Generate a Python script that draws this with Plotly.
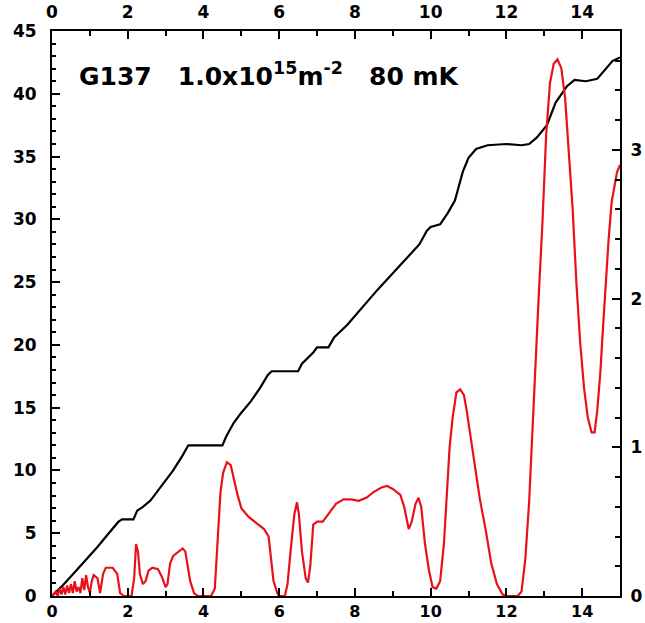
import plotly.graph_objects as go

# Hall resistance (left axis, black)
hall_x = [0, 0.3, 0.6, 0.9, 1.2, 1.5, 1.75, 1.85, 2.15, 2.25, 2.4, 2.6, 2.9, 3.2, 3.45, 3.6,
          4.5, 4.6, 4.8, 5.0, 5.25, 5.5, 5.7, 5.8, 6.5, 6.6, 6.9, 7.0, 7.3, 7.45, 7.8, 8.2,
          8.6, 9.0, 9.4, 9.7, 9.9, 10.0, 10.25, 10.45, 10.64, 10.85, 11.0, 11.2, 11.5, 12.0,
          12.4, 12.6, 12.8, 13.07, 13.3, 13.6, 13.8, 14.1, 14.4, 14.6, 14.8, 15.0]
hall_y = [0, 0.9, 1.9, 2.9, 3.9, 5.0, 5.9, 6.1, 6.1, 6.8, 7.1, 7.6, 8.8, 10.0, 11.2, 12.0,
          12.0, 12.7, 13.8, 14.6, 15.5, 16.6, 17.6, 17.9, 17.9, 18.5, 19.4, 19.8, 19.8, 20.6, 21.6, 23.0,
          24.4, 25.7, 27.0, 28.0, 29.1, 29.4, 29.6, 30.5, 31.5, 33.8, 34.9, 35.6, 35.9, 36.0,
          35.9, 36.0, 36.5, 37.5, 39.3, 40.6, 41.1, 41.0, 41.2, 41.9, 42.6, 42.9]

# Longitudinal resistance (right axis, red)
rxx_x = [0, 0.1, 0.15, 0.2, 0.25, 0.3, 0.35, 0.4, 0.45, 0.5, 0.55, 0.6, 0.65, 0.7, 0.75, 0.8,
         0.85, 0.9, 0.95, 1.0, 1.05, 1.1, 1.2, 1.27, 1.35, 1.42, 1.6, 1.72, 1.8, 1.9, 2.1, 2.17,
         2.22, 2.27, 2.32, 2.4, 2.47, 2.55, 2.65, 2.8, 2.9, 3.0, 3.05, 3.12, 3.2, 3.35, 3.45,
         3.52, 3.58, 3.65, 3.75, 3.85, 4.2, 4.3, 4.38, 4.45, 4.52, 4.62, 4.72, 4.8, 4.9, 5.0,
         5.2, 5.4, 5.6, 5.72, 5.78, 5.85, 5.95, 6.0, 6.15, 6.22, 6.3, 6.4, 6.47, 6.52, 6.6, 6.7,
         6.76, 6.82, 6.9, 7.0, 7.15, 7.3, 7.5, 7.7, 7.9, 8.1, 8.3, 8.5, 8.7, 8.85, 9.0, 9.2,
         9.3, 9.42, 9.5, 9.6, 9.68, 9.75, 9.85, 9.95, 10.05, 10.15, 10.25, 10.35, 10.42, 10.5,
         10.58, 10.68, 10.78, 10.88, 10.95, 11.05, 11.15, 11.3, 11.45, 11.6, 11.75, 11.9, 12.0,
         12.3, 12.4, 12.5, 12.6, 12.7, 12.78, 12.85, 12.95, 13.05, 13.15, 13.25, 13.35, 13.45,
         13.55, 13.65, 13.75, 13.85, 13.95, 14.05, 14.15, 14.25, 14.33, 14.4, 14.48, 14.55,
         14.62, 14.7, 14.78, 14.85, 14.92, 15.0]
rxx_y = [0, 0.03, 0, 0.05, 0.01, 0.06, 0.01, 0.07, 0.02, 0.08, 0.02, 0.1, 0.03, 0.06, 0.02, 0.12,
         0.04, 0.14, 0.06, 0.02, 0.1, 0.14, 0.12, 0.02, 0.15, 0.19, 0.19, 0.15, 0.02, 0.0, 0.0, 0.12,
         0.35, 0.3, 0.15, 0.08, 0.1, 0.17, 0.19, 0.18, 0.13, 0.06, 0.08, 0.22, 0.27, 0.3, 0.32,
         0.3, 0.2, 0.1, 0.02, 0, 0, 0.05, 0.4, 0.7, 0.83, 0.9, 0.88, 0.78, 0.68, 0.59,
         0.53, 0.49, 0.45, 0.4, 0.25, 0.1, 0.02, 0, 0, 0.08, 0.3, 0.55, 0.63, 0.55, 0.3, 0.12,
         0.09, 0.2, 0.48, 0.5, 0.5, 0.55, 0.62, 0.65, 0.65, 0.64, 0.66, 0.7, 0.73, 0.74, 0.72, 0.68,
         0.6, 0.45, 0.5, 0.62, 0.66, 0.6, 0.35, 0.18, 0.06, 0.05, 0.1, 0.35, 0.65, 1.0,
         1.2, 1.37, 1.39, 1.35, 1.25, 1.08, 0.88, 0.65, 0.45, 0.22, 0.08, 0.01, 0,
         0, 0.03, 0.25, 0.63, 1.2, 1.6, 2.0, 2.5, 3.1, 3.45, 3.58, 3.61, 3.55,
         3.35, 3.0, 2.6, 2.1, 1.7, 1.4, 1.2, 1.1, 1.1, 1.25, 1.5, 1.8,
         2.1, 2.4, 2.65, 2.75, 2.85, 2.9]

x_ticks = [0, 2, 4, 6, 8, 10, 12, 14]
left_ticks = [0, 5, 10, 15, 20, 25, 30, 35, 40, 45]
right_ticks = [0, 1, 2, 3]
label_text = "G137   1.0x10<sup>15</sup>m<sup>-2</sup>   80 mK"

fnt = dict(family="DejaVu Sans", size=17, color="black", weight="bold")
fnt_bottom = dict(family="DejaVu Sans", size=16, color="black", weight="bold")

fig = go.Figure()
fig.add_trace(go.Scatter(x=hall_x, y=hall_y, mode="lines",
                         line=dict(color="black", width=2.2), xaxis="x", yaxis="y",
                         showlegend=False, hoverinfo="skip"))
fig.add_trace(go.Scatter(x=rxx_x, y=rxx_y, mode="lines",
                         line=dict(color="#e8111a", width=2.2), xaxis="x", yaxis="y2",
                         showlegend=False, hoverinfo="skip"))
# invisible trace to make the top axis render
fig.add_trace(go.Scatter(x=[0, 15], y=[0, 0], mode="lines", line=dict(width=0),
                         opacity=0, xaxis="x2", yaxis="y", showlegend=False, hoverinfo="skip"))

axis_common = dict(showline=True, linecolor="black", linewidth=2, mirror=False,
                   showgrid=False, zeroline=False, ticks="inside", ticklen=8,
                   tickwidth=2, tickcolor="black", automargin=False)

fig.update_layout(
    width=645, height=623,
    margin=dict(l=52, r=25, t=31, b=27),
    paper_bgcolor="white", plot_bgcolor="white",
    xaxis=dict(range=[0, 15], tickvals=x_ticks, ticktext=[str(v) for v in x_ticks],
               ticklabelstandoff=0, tickfont=fnt_bottom,
               minor=dict(ticks="inside", ticklen=5, tickwidth=2, tickcolor="black", dtick=1, tick0=0),
               **axis_common),
    xaxis2=dict(range=[0, 15], overlaying="x", side="top", anchor="y",
                tickvals=x_ticks, ticktext=[str(v) for v in x_ticks],
                ticklabelstandoff=4, tickfont=fnt,
                minor=dict(ticks="inside", ticklen=5, tickwidth=2, tickcolor="black", dtick=1, tick0=0),
                **axis_common),
    yaxis=dict(range=[0, 45], tickvals=left_ticks, ticktext=[str(v) for v in left_ticks],
               ticklabelstandoff=10, tickfont=fnt,
               minor=dict(ticks="inside", ticklen=4, tickwidth=1.5, tickcolor="black", dtick=1, tick0=0),
               **axis_common),
    yaxis2=dict(range=[0, 3.8], overlaying="y", side="right", anchor="x",
                tickvals=right_ticks, ticktext=[str(v) for v in right_ticks],
                ticklabelstandoff=5, tickfont=fnt,
                minor=dict(ticks="inside", ticklen=5, tickwidth=2, tickcolor="black", dtick=0.2, tick0=0),
                **axis_common),
    annotations=[dict(x=0.65, y=41.5, xref="x", yref="y", text=label_text,
                      showarrow=False, xanchor="left", yanchor="middle",
                      font=dict(family="DejaVu Sans", size=25, color="black", weight="bold"))],
)

fig.write_html("out.html")
